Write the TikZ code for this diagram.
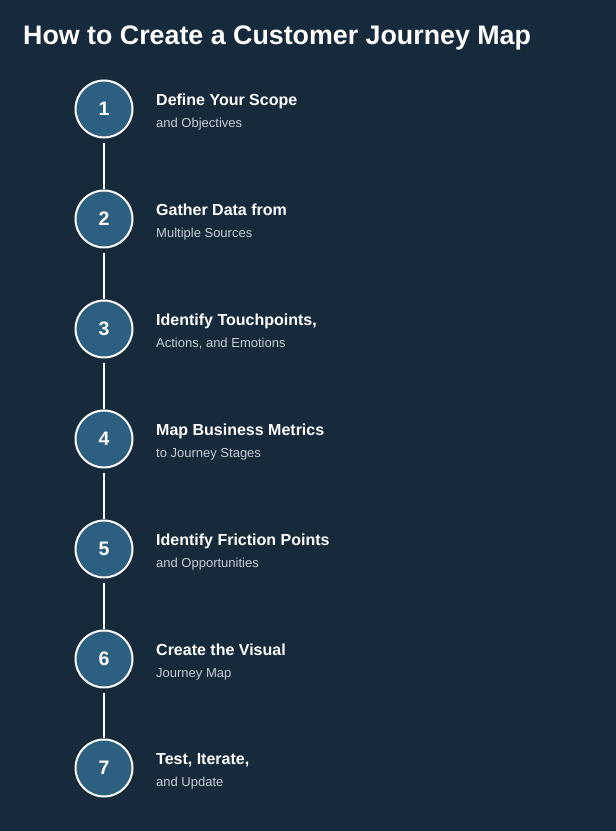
\documentclass[tikz,border=0pt]{standalone}
\usepackage{fontspec}
\setmainfont{Liberation Sans}
\definecolor{pagebg}{HTML}{172A3B}
\definecolor{stepfill}{HTML}{2D6080}
\definecolor{subgray}{HTML}{C5CCD3}
\tikzset{
  stepnum/.style={circle,draw=white,line width=2bp,fill=stepfill,minimum size=57bp,inner sep=0pt,
    text=white,font=\fontsize{19.5bp}{19.5bp}\selectfont\bfseries},
  steptitle/.style={anchor=base west,inner sep=0pt,text=white,font=\fontsize{16bp}{16bp}\selectfont\bfseries},
  stepsub/.style={anchor=base west,inner sep=0pt,text=subgray,font=\fontsize{13bp}{13bp}\selectfont},
  link/.style={white,line width=1.5bp,shorten <=5bp},
}
\begin{document}
\begin{tikzpicture}[line join=bevel]
%%
\fill [pagebg] (0bp,0bp) rectangle (616bp,831bp);
\useasboundingbox (0bp,0bp) rectangle (616bp,831bp);
\node (title) at (23bp,786bp) [anchor=base west,inner sep=0pt,text=white,font=\fontsize{26.8bp}{26.8bp}\selectfont\bfseries] {How to Create a Customer Journey Map};
%
\node (step_1) at (104bp,722bp) [stepnum] {1};
  \node (step_2) at (104bp,612bp) [stepnum] {2};
  \node (step_3) at (104bp,502bp) [stepnum] {3};
  \node (step_4) at (104bp,392bp) [stepnum] {4};
  \node (step_5) at (104bp,282bp) [stepnum] {5};
  \node (step_6) at (104bp,172bp) [stepnum] {6};
  \node (step_7) at (104bp,63bp) [stepnum] {7};
%
\node (title_1) at (156bp,725bp) [steptitle] {Define Your Scope};
  \node (sub_1) at (156bp,703bp) [stepsub] {and Objectives};
  \node (title_2) at (156bp,615bp) [steptitle] {Gather Data from};
  \node (sub_2) at (156bp,593bp) [stepsub] {Multiple Sources};
  \node (title_3) at (156bp,505bp) [steptitle] {Identify Touchpoints,};
  \node (sub_3) at (156bp,483bp) [stepsub] {Actions, and Emotions};
  \node (title_4) at (156bp,395bp) [steptitle] {Map Business Metrics};
  \node (sub_4) at (156bp,373bp) [stepsub] {to Journey Stages};
  \node (title_5) at (156bp,285bp) [steptitle] {Identify Friction Points};
  \node (sub_5) at (156bp,263bp) [stepsub] {and Opportunities};
  \node (title_6) at (156bp,175bp) [steptitle] {Create the Visual};
  \node (sub_6) at (156bp,153bp) [stepsub] {Journey Map};
  \node (title_7) at (156bp,66bp) [steptitle] {Test, Iterate,};
  \node (sub_7) at (156bp,44bp) [stepsub] {and Update};
%
\draw [link] (step_1) -- (step_2);
  \draw [link] (step_2) -- (step_3);
  \draw [link] (step_3) -- (step_4);
  \draw [link] (step_4) -- (step_5);
  \draw [link] (step_5) -- (step_6);
  \draw [link] (step_6) -- (step_7);
%
\end{tikzpicture}
\end{document}
